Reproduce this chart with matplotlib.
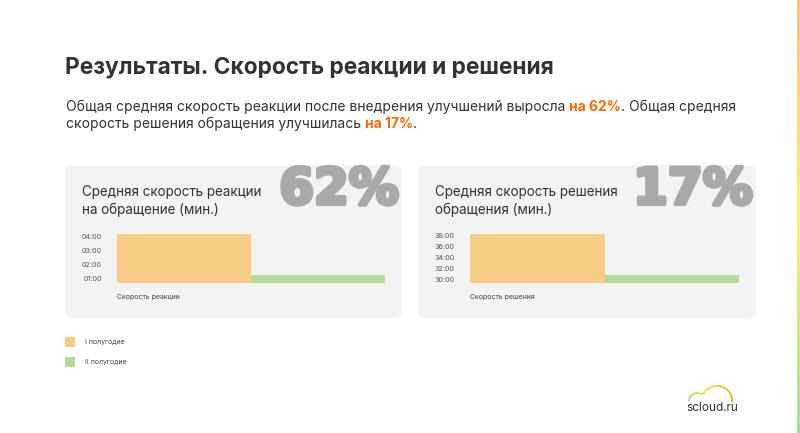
import numpy as np
import matplotlib
matplotlib.use("Agg")
import matplotlib.pyplot as plt
import matplotlib.patheffects as pe
from matplotlib.patches import FancyBboxPatch, Rectangle
from matplotlib.collections import LineCollection
from matplotlib.ticker import FuncFormatter, FixedLocator

plt.rcParams['font.family'] = ['Inter', 'DejaVu Sans']

# data (minutes)
periods = ['I полугодие', 'II полугодие']
reaction_min = [4.17, 1.25]
solution_min = [38.2, 30.8]
reaction_ticks = [1, 2, 3, 4]
solution_ticks = [30, 32, 34, 36, 38]
reaction_ylim = (0.66, 4.17)
solution_ylim = (29.33, 38.2)
big_numbers = ['62%', '17%']
panel_titles = ['Средняя скорость реакции\nна обращение (мин.)',
                'Средняя скорость решения\nобращения (мин.)']
axis_labels = ['Скорость реакции', 'Скорость решения']

ORANGE = '#f6cd84'
GREEN = '#b4dc98'
PANEL = '#f3f3f3'
DARK = '#333333'
ACCENT = '#ff6a00'
BIG = '#a9a9a9'

W, H = 800, 433
fig = plt.figure(figsize=(8, 4.33), dpi=100)
fig.patch.set_facecolor('white')

bg = fig.add_axes([0, 0, 1, 1], zorder=0)
bg.set_xlim(0, W)
bg.set_ylim(H, 0)
bg.axis('off')


def px(x0, y0, x1, y1):
    return [x0 / W, 1 - y1 / H, (x1 - x0) / W, (y1 - y0) / H]


# title and subtitle
bg.text(65, 73, 'Результаты. Скорость реакции и решения', fontsize=16.4,
        fontweight='bold', color=DARK, va='baseline')


def rich(x, y, parts, size):
    prev = None
    for txt, bold in parts:
        kw = dict(fontsize=size, color=ACCENT if bold else DARK,
                  fontweight='bold' if bold else 'normal')
        if prev is None:
            prev = bg.text(x, y, txt, va='bottom', **kw)
        else:
            prev = bg.annotate(txt, xy=(1, 0), xycoords=prev, va='bottom',
                               ha='left', **kw)


rich(66, 114, [('Общая средняя скорость реакции после внедрения улучшений выросла ', False),
               ('на 62%', True), ('. Общая средняя', False)], 10)
rich(66, 131, [('скорость решения обращения улучшилась ', False),
               ('на 17%', True), ('.', False)], 10)

# panels
panels = [(65, 165, 402, 318), (418, 165, 756, 318)]
plot_x = [(117, 385), (470, 739)]
values = [reaction_min, solution_min]
ticks = [reaction_ticks, solution_ticks]
ylims = [reaction_ylim, solution_ylim]

for i in range(2):
    x0, y0, x1, y1 = panels[i]
    box = FancyBboxPatch((x0, y0), x1 - x0, y1 - y0,
                         boxstyle='round,pad=0,rounding_size=7',
                         facecolor=PANEL, edgecolor='none', zorder=1)
    bg.add_patch(box)
    t = bg.text(x1 - 3, 204, big_numbers[i], fontsize=36, fontweight='bold',
                fontfamily='DejaVu Sans', color=BIG, ha='right',
                va='baseline', zorder=2,
                path_effects=[pe.withStroke(linewidth=3, foreground=BIG)])
    t.set_clip_path(box)
    bg.text(x0 + 17, 214, panel_titles[i], fontsize=9.7, color=DARK,
            va='baseline', linespacing=1.3, zorder=3)
    bg.text(plot_x[i][0], 297, axis_labels[i], fontsize=5, color='#444444',
            va='center', zorder=3)

    ax = fig.add_axes(px(plot_x[i][0], 234, plot_x[i][1], 283), zorder=2)
    ax.patch.set_alpha(0)
    ax.bar([0, 1], [v - ylims[i][0] for v in values[i]], width=1,
           bottom=ylims[i][0], color=[ORANGE, GREEN], align='center')
    ax.set_xlim(-0.5, 1.5)
    ax.set_ylim(*ylims[i])
    ax.yaxis.set_major_locator(FixedLocator(ticks[i]))
    ax.yaxis.set_major_formatter(FuncFormatter(lambda v, p: f'{int(round(v)):02d}:00'))
    ax.tick_params(axis='y', length=0, labelsize=5.2, labelcolor='#555555', pad=11)
    ax.set_xticks([])
    for s in ax.spines.values():
        s.set_visible(False)

# legend
for j, (name, c) in enumerate(zip(periods, [ORANGE, GREEN])):
    yc = 342 + 20 * j
    bg.add_patch(Rectangle((65, yc - 5), 10, 10, facecolor=c, edgecolor='none'))
    bg.text(85, yc, name, fontsize=5, color='#444444', va='center')

# logo
bg.text(712, 408, 'scloud.ru', fontsize=8.5, color=DARK, ha='center', va='center')
a1 = np.linspace(np.pi, np.pi * 0.35, 30)
a2 = np.linspace(np.pi * 0.85, -np.pi * 0.05, 40)
xs = np.concatenate([697 + 8 * np.cos(a1), 717 + 15 * np.cos(a2)])
ys = np.concatenate([401 - 8 * np.sin(a1), 400 - 14 * np.sin(a2)])
pts = np.column_stack([xs, ys])
segs = np.stack([pts[:-1], pts[1:]], axis=1)
cmap = matplotlib.colors.LinearSegmentedColormap.from_list('logo', ['#8cc63f', '#f5d800', '#f39200'])
lc = LineCollection(segs, colors=cmap(np.linspace(0, 1, len(segs))), linewidths=1.2)
bg.add_collection(lc)

# right edge stripe
grad = np.linspace(0, 1, 200).reshape(-1, 1)
stripe = matplotlib.colors.LinearSegmentedColormap.from_list(
    'stripe', ['#ffc08c', '#fff176', '#a6dca4'])
bg.imshow(grad, cmap=stripe, extent=(797, 800, H, 0), aspect='auto', zorder=0)
bg.set_xlim(0, W)
bg.set_ylim(H, 0)

fig.savefig('out.png', dpi=100)
